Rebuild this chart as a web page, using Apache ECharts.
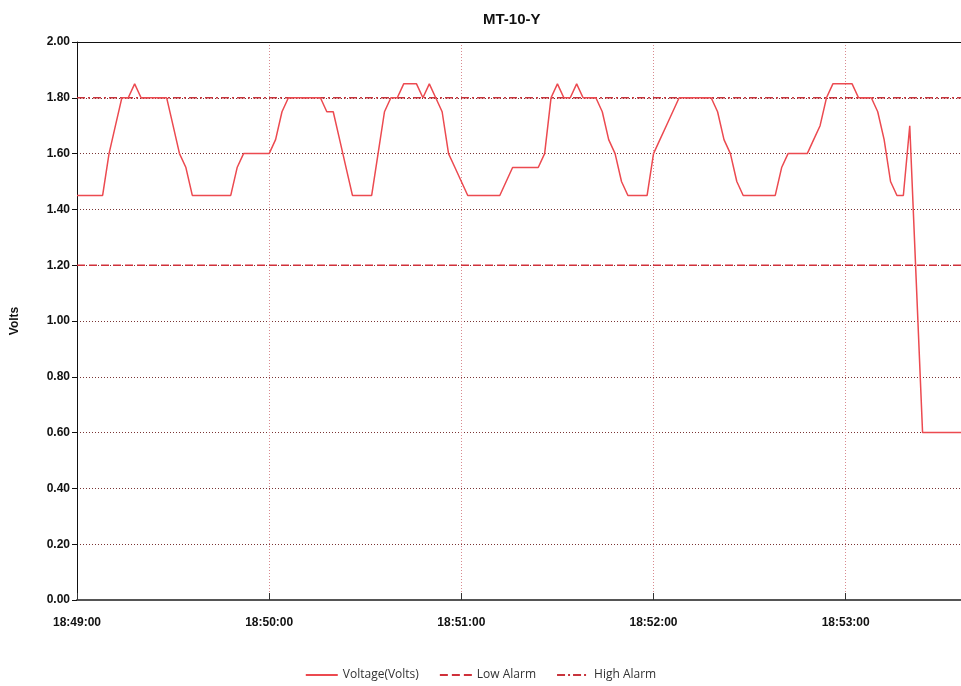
<!DOCTYPE html>
<html>
<head>
<meta charset="utf-8">
<title>MT-10-Y</title>
<script src="https://cdn.jsdelivr.net/npm/echarts@6/dist/echarts.min.js"></script>
<style>
  html, body { margin: 0; padding: 0; background: #fff; }
  #chart { width: 961px; height: 686px; }
</style>
</head>
<body>
<div id="chart"></div>
<script>
// Sensor MT-10-Y, one reading every 2 seconds starting 18:49:00
const startTime = '18:49:00';
const sampleSeconds = 2;

const voltage = [
  1.45, 1.45, 1.45, 1.45, 1.45, 1.60, 1.70, 1.80, 1.80, 1.85,
  1.80, 1.80, 1.80, 1.80, 1.80, 1.70, 1.60, 1.55, 1.45, 1.45,
  1.45, 1.45, 1.45, 1.45, 1.45, 1.55, 1.60, 1.60, 1.60, 1.60,
  1.60, 1.65, 1.75, 1.80, 1.80, 1.80, 1.80, 1.80, 1.80, 1.75,
  1.75, 1.65, 1.55, 1.45, 1.45, 1.45, 1.45, 1.60, 1.75, 1.80,
  1.80, 1.85, 1.85, 1.85, 1.80, 1.85, 1.80, 1.75, 1.60, 1.55,
  1.50, 1.45, 1.45, 1.45, 1.45, 1.45, 1.45, 1.50, 1.55, 1.55,
  1.55, 1.55, 1.55, 1.60, 1.80, 1.85, 1.80, 1.80, 1.85, 1.80,
  1.80, 1.80, 1.75, 1.65, 1.60, 1.50, 1.45, 1.45, 1.45, 1.45,
  1.60, 1.65, 1.70, 1.75, 1.80, 1.80, 1.80, 1.80, 1.80, 1.80,
  1.75, 1.65, 1.60, 1.50, 1.45, 1.45, 1.45, 1.45, 1.45, 1.45,
  1.55, 1.60, 1.60, 1.60, 1.60, 1.65, 1.70, 1.80, 1.85, 1.85,
  1.85, 1.85, 1.80, 1.80, 1.80, 1.75, 1.65, 1.50, 1.45, 1.45,
  1.70, 1.15, 0.60, 0.60, 0.60, 0.60, 0.60, 0.60, 0.60
];

const lowAlarm = 1.20;
const highAlarm = 1.80;

const minuteLabels = ['18:49:00', '18:50:00', '18:51:00', '18:52:00', '18:53:00'];

// Timestamp for each reading
function pad(n) { return String(n).padStart(2, '0'); }
const [h0, m0, s0] = startTime.split(':').map(Number);
const times = voltage.map((_, i) => {
  const t = h0 * 3600 + m0 * 60 + s0 + i * sampleSeconds;
  return pad(Math.floor(t / 3600)) + ':' + pad(Math.floor(t / 60) % 60) + ':' + pad(t % 60);
});

const isMinute = (idx) => minuteLabels.indexOf(times[idx]) !== -1;

const font = '"Liberation Sans", Arial, sans-serif';

const chart = echarts.init(document.getElementById('chart'), null, { renderer: 'canvas' });

chart.setOption({
  animation: false,
  backgroundColor: '#ffffff',
  title: {
    text: 'MT-10-Y',
    left: 478,
    top: 7,
    textStyle: { fontFamily: font, fontSize: 15, fontWeight: 'bold', color: '#111' }
  },
  legend: {
    bottom: 0,
    left: 'center',
    itemWidth: 32,
    itemHeight: 10,
    itemGap: 20,
    itemStyle: { opacity: 0, borderWidth: 0 },
    textStyle: { fontFamily: '"Open Sans", "Noto Sans", sans-serif', fontSize: 12, color: '#333' },
    data: ['Voltage(Volts)', 'Low Alarm', 'High Alarm']
  },
  grid: { left: 77, right: 0, top: 42, bottom: 86, containLabel: false },
  xAxis: [
    {
      type: 'category',
      data: times,
      boundaryGap: false,
      axisLine: { show: true, lineStyle: { color: '#555', width: 2 } },
      axisTick: { show: true, inside: true, length: 7, interval: isMinute, lineStyle: { color: '#333', width: 1 } },
      axisLabel: {
        interval: isMinute,
        margin: 17,
        fontFamily: font,
        fontSize: 12,
        fontWeight: 'bold',
        color: '#111'
      },
      splitLine: {
        show: true,
        interval: isMinute,
        lineStyle: { color: '#d98a8f', type: [1, 2], width: 1 }
      }
    },
    {
      type: 'category',
      data: times,
      boundaryGap: false,
      position: 'top',
      axisLine: { show: true, lineStyle: { color: '#111', width: 1 } },
      axisTick: { show: false },
      axisLabel: { show: false },
      splitLine: { show: false }
    }
  ],
  yAxis: {
    type: 'value',
    min: 0,
    max: 2,
    interval: 0.2,
    name: 'Volts',
    nameLocation: 'middle',
    nameGap: 56,
    nameTextStyle: { fontFamily: font, fontSize: 12, fontWeight: 'bold', color: '#111' },
    axisLine: { show: true, lineStyle: { color: '#111', width: 1 } },
    axisTick: { show: true, length: 5, lineStyle: { color: '#111' } },
    axisLabel: {
      margin: 7,
      fontFamily: font,
      fontSize: 12,
      fontWeight: 'bold',
      color: '#111',
      formatter: v => v.toFixed(2)
    },
    splitLine: { show: true, lineStyle: { color: '#7a3535', type: [1, 2], width: 1 } }
  },
  series: [
    {
      name: 'Voltage(Volts)',
      type: 'line',
      data: voltage,
      symbol: 'none',
      lineStyle: { color: '#ec4a50', width: 1.5 },
      itemStyle: { color: '#ec4a50' },
      z: 5
    },
    {
      name: 'Low Alarm',
      type: 'line',
      data: voltage.map(() => lowAlarm),
      symbol: 'none',
      lineStyle: { color: '#d0303a', width: 1.5, type: [8, 4] },
      itemStyle: { color: '#d0303a' },
      z: 4
    },
    {
      name: 'High Alarm',
      type: 'line',
      data: voltage.map(() => highAlarm),
      symbol: 'none',
      lineStyle: { color: '#c8343c', width: 1.5, type: [8, 3, 2, 3] },
      itemStyle: { color: '#c8343c' },
      z: 4
    }
  ]
});
</script>
</body>
</html>
